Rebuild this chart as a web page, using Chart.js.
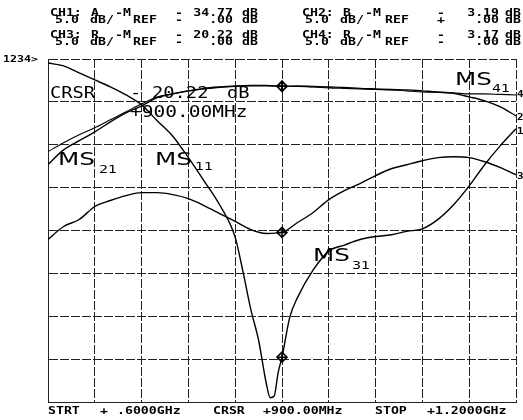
<!DOCTYPE html>
<html>
<head>
<meta charset="utf-8">
<script src="https://cdn.jsdelivr.net/npm/chart.js@4"></script>
<style>
  body { margin: 0; background: #fff; }
  canvas { display: block; }
</style>
</head>
<body>
<canvas id="analyzer" width="523" height="420"></canvas>
<script>
// Frequency points (MHz) for the smooth traces
var freqs = [600, 620, 640, 660, 680, 700, 720, 740, 760, 780, 800, 820, 840, 860, 880, 900,
             920, 940, 960, 980, 1000, 1020, 1040, 1060, 1080, 1100, 1120, 1140, 1160, 1180, 1200];

// MS11 has a sharp notch near the cursor, so it gets extra points there
var ms11Freqs = [600, 620, 640, 660, 680, 700, 720, 740, 760, 780, 800, 820, 840, 850, 860, 870,
                 880, 885, 890, 895, 900, 910, 920, 940, 960, 980, 1000, 1020, 1040, 1060, 1080,
                 1100, 1120, 1140, 1160, 1180, 1200];

// Trace values in dB (5 dB/div, ref 0 dB at top)
var ms11 = [-0.47, -0.81, -1.63, -2.44, -3.26, -4.19, -5.35, -7.2, -9.0, -11.5, -14.2, -17.0, -20.8, -24.8,
            -29.2, -32.8, -37.9, -39.5, -39.3, -36.6, -34.77, -30.1, -27.8, -24.6, -22.4, -21.7, -21.05,
            -20.7, -20.5, -20.1, -19.8, -18.7, -17.0, -14.8, -12.3, -10.1, -8.14];

var ms21 = [-12.3, -10.6, -9.53, -8.5, -7.33, -6.28, -5.47, -4.5, -4.07, -3.72, -3.43, -3.26, -3.14, -3.08,
            -3.08, -3.19, -3.14, -3.2, -3.26, -3.31, -3.43, -3.49, -3.55, -3.6, -3.72, -3.84, -4.01, -4.42,
            -4.88, -5.58, -6.63];

var ms31 = [-21.05, -19.53, -18.72, -17.2, -16.5, -15.93, -15.58, -15.58, -15.81, -16.28, -17.09, -18.02,
            -18.95, -19.9, -20.35, -20.22, -19.07, -17.9, -16.4, -15.35, -14.53, -13.6, -12.8, -12.33,
            -11.86, -11.5, -11.4, -11.5, -11.98, -12.67, -13.49];

var ms41 = [-10.8, -9.77, -8.84, -8.02, -7.09, -6.16, -5.23, -4.42, -4.07, -3.72, -3.49, -3.31, -3.2, -3.14,
            -3.14, -3.17, -3.2, -3.26, -3.37, -3.43, -3.49, -3.55, -3.6, -3.72, -3.84, -3.9, -3.95, -4.07,
            -4.07, -4.13, -4.19];

// Cursor readouts at 900 MHz
var cursorFreq = 900;
var cursorValues = [-34.77, -3.19, -20.22, -3.17];

function toPoints(xs, ys) {
    return xs.map(function (x, i) { return { x: x, y: ys[i] }; });
}

var INK = '#000';

// Stretched text, so the plotter lettering comes out wide like the original
function wideText(ctx, str, x, y, size, sx, weight, align) {
    ctx.save();
    ctx.font = (weight || 'normal') + ' ' + size + 'px "DejaVu Sans Mono"';
    ctx.textAlign = align || 'left';
    ctx.textBaseline = 'alphabetic';
    ctx.translate(x, y);
    ctx.scale(sx, 1);
    ctx.fillText(str, 0, 0);
    ctx.restore();
}

function sansText(ctx, str, x, y, size, sx) {
    ctx.save();
    ctx.font = size + 'px "DejaVu Sans"';
    ctx.textBaseline = 'alphabetic';
    ctx.translate(x, y);
    ctx.scale(sx, 1);
    ctx.fillText(str, 0, 0);
    ctx.restore();
}

// All the annotation lettering of the plotter page
var annotations = {
    id: 'annotations',
    afterDraw: function (chart) {
        var ctx = chart.ctx;
        ctx.fillStyle = INK;

        // Header, channel readouts
        var rows = [
            { y: 16, cols: [['CH1:', 50], ['A', 91], ['-M', 115], ['-', 175]], val: '34.77', end: 233, db: 242 },
            { y: 23, cols: [['5.0', 55], ['dB/', 90], ['REF', 133], ['-', 175]], val: '.00', end: 233, db: 242 },
            { y: 38, cols: [['CH3:', 50], ['R', 91], ['-M', 115], ['-', 175]], val: '20.22', end: 233, db: 242 },
            { y: 45, cols: [['5.0', 55], ['dB/', 90], ['REF', 133], ['-', 175]], val: '.00', end: 233, db: 242 }
        ];
        var rowsRight = [
            { y: 16, cols: [['CH2:', 302], ['B', 343], ['-M', 365], ['-', 437]], val: '3.19', end: 499, db: 505 },
            { y: 23, cols: [['5.0', 305], ['dB/', 340], ['REF', 385], ['+', 437]], val: '.00', end: 499, db: 505 },
            { y: 38, cols: [['CH4:', 302], ['R', 343], ['-M', 365], ['-', 437]], val: '3.17', end: 499, db: 505 },
            { y: 45, cols: [['5.0', 305], ['dB/', 340], ['REF', 385], ['-', 437]], val: '.00', end: 499, db: 505 }
        ];
        rows.concat(rowsRight).forEach(function (r) {
            r.cols.forEach(function (c) {
                wideText(ctx, c[0], c[1], r.y, 10, 1.32, 'bold');
            });
            wideText(ctx, r.val, r.end, r.y, 10, 1.32, 'bold', 'right');
            wideText(ctx, 'dB', r.db, r.y, 10, 1.32, 'bold');
        });

        wideText(ctx, '1234>', 3, 62, 8, 1.45, 'bold');

        // Footer
        var footer = [['STRT', 48], ['+', 100], ['.6000GHz', 117], ['CRSR', 213],
                      ['+900.00MHz', 263], ['STOP', 375], ['+1.2000GHz', 427]];
        footer.forEach(function (f) {
            wideText(ctx, f[0], f[1], 414, 10, 1.32, 'bold');
        });

        // Cursor readout inside the grid
        wideText(ctx, 'CRSR', 50, 98, 15, 1.25);
        wideText(ctx, '-', 130, 98, 15, 1.25);
        wideText(ctx, '20.22', 152, 98, 15, 1.25);
        wideText(ctx, 'dB', 227, 98, 15, 1.25);
        wideText(ctx, '+900.00MHz', 130, 117, 15, 1.3);

        // Trace labels
        sansText(ctx, 'MS', 58, 165, 17, 1.45);
        sansText(ctx, '21', 99, 173, 11, 1.3);
        sansText(ctx, 'MS', 155, 165, 17, 1.45);
        sansText(ctx, '11', 195, 170, 11, 1.3);
        sansText(ctx, 'MS', 313, 261, 17, 1.45);
        sansText(ctx, '31', 352, 269, 11, 1.3);
        sansText(ctx, 'MS', 455, 85, 17, 1.45);
        sansText(ctx, '41', 492, 92, 11, 1.3);

        // Trace end numbers on the right edge
        wideText(ctx, '4', 517, 97, 9, 1.2, 'bold');
        wideText(ctx, '2', 517, 120, 9, 1.2, 'bold');
        wideText(ctx, '1', 517, 134, 9, 1.2, 'bold');
        wideText(ctx, '3', 517, 179, 9, 1.2, 'bold');
    }
};

var traceStyle = {
    borderColor: INK,
    borderWidth: 1.4,
    pointRadius: 0,
    fill: false,
    cubicInterpolationMode: 'monotone'
};

var cursorPoints = cursorValues.map(function (v) { return { x: cursorFreq, y: v }; });

var ctx = document.getElementById('analyzer').getContext('2d');
new Chart(ctx, {
    type: 'line',
    data: {
        datasets: [
            Object.assign({ label: 'MS11', data: toPoints(ms11Freqs, ms11) }, traceStyle),
            Object.assign({ label: 'MS21', data: toPoints(freqs, ms21) }, traceStyle),
            Object.assign({ label: 'MS31', data: toPoints(freqs, ms31) }, traceStyle),
            Object.assign({ label: 'MS41', data: toPoints(freqs, ms41) }, traceStyle, { borderWidth: 1.1 }),
            {
                label: 'cursor',
                data: cursorPoints,
                showLine: false,
                pointStyle: 'rectRot',
                pointRadius: 5,
                pointBorderColor: INK,
                pointBackgroundColor: 'rgba(0,0,0,0)',
                pointBorderWidth: 1.5
            },
            {
                label: 'cursor cross',
                data: cursorPoints,
                showLine: false,
                pointStyle: 'cross',
                pointRadius: 4,
                pointBorderColor: INK,
                pointBorderWidth: 1.5
            }
        ]
    },
    options: {
        responsive: false,
        animation: false,
        layout: {
            padding: { left: 48, right: 7, top: 59, bottom: 18 }
        },
        plugins: {
            legend: { display: false },
            tooltip: { enabled: false }
        },
        scales: {
            x: {
                type: 'linear',
                min: 600,
                max: 1200,
                ticks: { display: false, stepSize: 60 },
                grid: { color: '#222', lineWidth: 1, drawTicks: false, tickLength: 0 },
                border: { display: true, color: '#222', dash: [9, 2] }
            },
            y: {
                min: -40,
                max: 0,
                ticks: { display: false, stepSize: 5 },
                grid: { color: '#222', lineWidth: 1, drawTicks: false, tickLength: 0 },
                border: { display: true, color: '#222', dash: [9, 2] }
            }
        }
    },
    plugins: [annotations]
});
</script>
</body>
</html>
